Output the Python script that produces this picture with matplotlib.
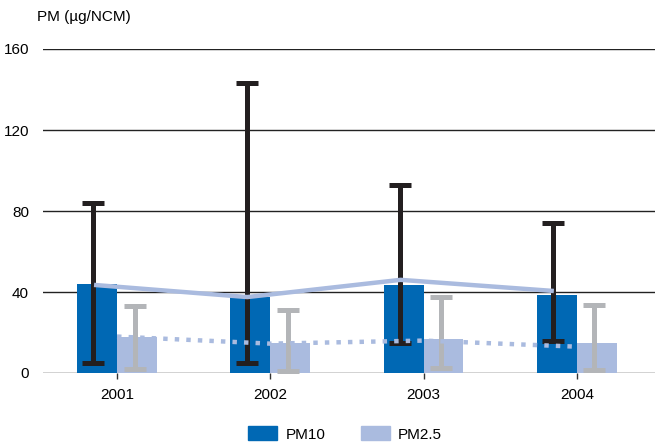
import matplotlib
matplotlib.use("Agg")
import matplotlib.pyplot as plt
import numpy as np
from matplotlib.patches import Patch

years = ["2001", "2002", "2003", "2004"]
pm10 = [44, 37.5, 43.5, 38.5]
pm25 = [17.8, 14.8, 17, 14.8]
pm10_err_low = [5, 5, 15, 16]
pm10_err_high = [84, 143, 93, 74]
pm25_err_low = [2, 1, 2.5, 1.5]
pm25_err_high = [33, 31, 37.5, 33.5]
pm10_line = [43.5, 37.5, 46, 40.5]
pm25_line = [18, 14.5, 16, 13]
yticks = [0, 40, 80, 120, 160]

plt.rcParams['font.family'] = ['Liberation Sans', 'DejaVu Sans']

c10 = '#0068b4'
c25 = '#aabbdf'
cerr10 = '#231f20'
cerr25 = '#b3b5b8'

fig = plt.figure(figsize=(6.55, 4.47), dpi=100)
ax = fig.add_axes([43/655, 1-373/447, 1-43/655, (373-49)/447])

x = np.arange(len(years))
w = 0.26
for yv in yticks:
    ax.axhline(yv, color='#222222', lw=1.0, zorder=0)
ax.bar(x - w/2, pm10, w, color=c10, zorder=2)
ax.bar(x + w/2, pm25, w, color=c25, zorder=2)

# error bars
e10x = x - 0.155
e25x = x + 0.115
m10 = (np.array(pm10_err_low) + np.array(pm10_err_high)) / 2
ax.errorbar(e10x, m10, yerr=[m10 - np.array(pm10_err_low), np.array(pm10_err_high) - m10],
            fmt='none', ecolor=cerr10, elinewidth=3.6, capsize=7.9, capthick=3.6, zorder=3)
m25 = (np.array(pm25_err_low) + np.array(pm25_err_high)) / 2
ax.errorbar(e25x, m25, yerr=[m25 - np.array(pm25_err_low), np.array(pm25_err_high) - m25],
            fmt='none', ecolor=cerr25, elinewidth=3.6, capsize=7.9, capthick=3.6, zorder=3)

# lines
ax.plot(x - 0.15, pm10_line, color=c25, lw=3.2, zorder=5, solid_capstyle='butt')
ax.plot(x, pm25_line, color=c25, lw=3.2, ls=(0, (1, 1.6)), zorder=5)

ax.set_xlim(-0.483, 3.51)
ax.set_ylim(0, 160)
ax.set_yticks(yticks)
ax.set_yticklabels([str(v) for v in yticks], fontsize=11)
ax.set_xticks(x)
ax.set_xticklabels(years, fontsize=11)
ax.tick_params(axis='y', length=0, pad=10)
ax.tick_params(axis='x', length=4, width=1, color='#333333', pad=7)
for s in ax.spines.values():
    s.set_visible(False)

fig.text(37/655, 1-17/447, "PM (µg/NCM)", fontsize=11, va='center', ha='left')

handles = [Patch(color=c10, label='PM10'), Patch(color=c25, label='PM2.5')]
fig.legend(handles=handles, loc='center', bbox_to_anchor=(345/655, 1-434/447), ncol=2,
           frameon=False, fontsize=11, handlelength=1.9, handleheight=1.0,
           handletextpad=0.55, columnspacing=2.3)

fig.savefig('out.png', dpi=100)
